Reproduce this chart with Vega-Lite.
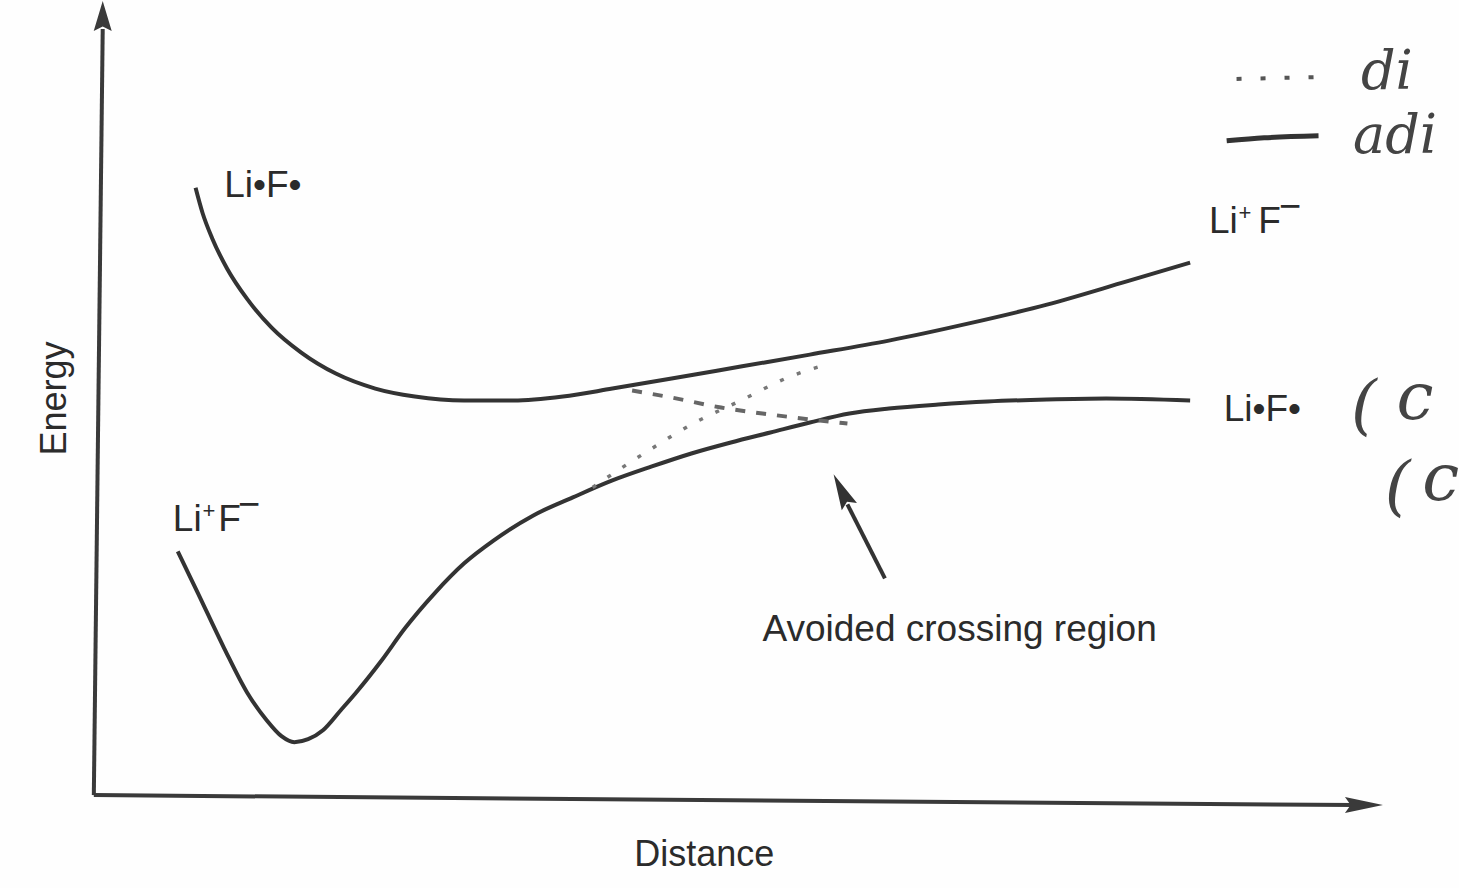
{
  "$schema": "https://vega.github.io/schema/vega-lite/v6.json",
  "width": 1459,
  "height": 888,
  "padding": 0,
  "autosize": {"type": "fit", "contains": "padding"},
  "background": "#fefefe",
  "config": {"view": {"stroke": null}},
  "datasets": {
    "axes": [
      {"part": "energy axis", "distance": 95, "energy": 93},
      {"part": "energy axis", "distance": 104, "energy": 860},
      {"part": "distance axis", "distance": 95, "energy": 93},
      {"part": "distance axis", "distance": 1372, "energy": 83}
    ],
    "curves": [
      {"state": "upper", "distance": 198, "energy": 701},
      {"state": "upper", "distance": 205, "energy": 676},
      {"state": "upper", "distance": 215, "energy": 650},
      {"state": "upper", "distance": 230, "energy": 620},
      {"state": "upper", "distance": 250, "energy": 590},
      {"state": "upper", "distance": 275, "energy": 561},
      {"state": "upper", "distance": 305, "energy": 536},
      {"state": "upper", "distance": 340, "energy": 515},
      {"state": "upper", "distance": 380, "energy": 500},
      {"state": "upper", "distance": 420, "energy": 492},
      {"state": "upper", "distance": 470, "energy": 488},
      {"state": "upper", "distance": 520, "energy": 488},
      {"state": "upper", "distance": 570, "energy": 492},
      {"state": "upper", "distance": 620, "energy": 500},
      {"state": "upper", "distance": 680, "energy": 510},
      {"state": "upper", "distance": 750, "energy": 522},
      {"state": "upper", "distance": 820, "energy": 534},
      {"state": "upper", "distance": 900, "energy": 548},
      {"state": "upper", "distance": 980, "energy": 565},
      {"state": "upper", "distance": 1060, "energy": 584},
      {"state": "upper", "distance": 1140, "energy": 607},
      {"state": "upper", "distance": 1205, "energy": 626},
      {"state": "lower", "distance": 180, "energy": 337},
      {"state": "lower", "distance": 200, "energy": 296},
      {"state": "lower", "distance": 227, "energy": 240},
      {"state": "lower", "distance": 250, "energy": 196},
      {"state": "lower", "distance": 270, "energy": 168},
      {"state": "lower", "distance": 285, "energy": 152},
      {"state": "lower", "distance": 298, "energy": 146},
      {"state": "lower", "distance": 312, "energy": 149},
      {"state": "lower", "distance": 327, "energy": 158},
      {"state": "lower", "distance": 345, "energy": 178},
      {"state": "lower", "distance": 360, "energy": 195},
      {"state": "lower", "distance": 385, "energy": 226},
      {"state": "lower", "distance": 410, "energy": 260},
      {"state": "lower", "distance": 440, "energy": 295},
      {"state": "lower", "distance": 470, "energy": 325},
      {"state": "lower", "distance": 500, "energy": 348},
      {"state": "lower", "distance": 540, "energy": 373},
      {"state": "lower", "distance": 580, "energy": 391},
      {"state": "lower", "distance": 620, "energy": 408},
      {"state": "lower", "distance": 660, "energy": 422},
      {"state": "lower", "distance": 700, "energy": 435},
      {"state": "lower", "distance": 740, "energy": 446},
      {"state": "lower", "distance": 780, "energy": 456},
      {"state": "lower", "distance": 820, "energy": 466},
      {"state": "lower", "distance": 860, "energy": 475},
      {"state": "lower", "distance": 900, "energy": 480},
      {"state": "lower", "distance": 950, "energy": 484},
      {"state": "lower", "distance": 1000, "energy": 487},
      {"state": "lower", "distance": 1060, "energy": 489},
      {"state": "lower", "distance": 1120, "energy": 490},
      {"state": "lower", "distance": 1205, "energy": 488}
    ],
    "covalent": [
      {"distance": 640, "energy": 498},
      {"distance": 680, "energy": 491},
      {"distance": 730, "energy": 481},
      {"distance": 780, "energy": 474},
      {"distance": 830, "energy": 468},
      {"distance": 858, "energy": 465}
    ],
    "ionic": [
      {"distance": 600, "energy": 401},
      {"distance": 627, "energy": 419},
      {"distance": 660, "energy": 440},
      {"distance": 700, "energy": 464},
      {"distance": 750, "energy": 488},
      {"distance": 800, "energy": 512},
      {"distance": 840, "energy": 525}
    ],
    "pointer": [
      {"distance": 858, "energy": 384},
      {"distance": 896, "energy": 310}
    ],
    "labels": [
      {"text": "Li•F•", "distance": 227, "energy": 692},
      {"text": "Li", "distance": 175, "energy": 357},
      {"text": "F", "distance": 221, "energy": 357},
      {"text": "Li", "distance": 1224, "energy": 656},
      {"text": "F", "distance": 1274, "energy": 656},
      {"text": "Li•F•", "distance": 1239, "energy": 468},
      {"text": "Avoided crossing region", "distance": 772, "energy": 247}
    ],
    "plus": [
      {"text": "+", "distance": 205, "energy": 370},
      {"text": "+", "distance": 1254, "energy": 669}
    ],
    "minus": [
      {"text": "−", "distance": 241, "energy": 371},
      {"text": "−", "distance": 1295, "energy": 670}
    ],
    "notes": [
      {"text": "(", "distance": 1368, "energy": 462},
      {"text": "c", "distance": 1414, "energy": 470},
      {"text": "(", "distance": 1402, "energy": 380},
      {"text": "c", "distance": 1440, "energy": 388}
    ],
    "legendnotes": [
      {"text": "di", "distance": 1378, "energy": 800},
      {"text": "adi", "distance": 1370, "energy": 736}
    ],
    "handdots": [
      {"distance": 1252, "energy": 810},
      {"distance": 1345, "energy": 812}
    ],
    "handline": [
      {"distance": 1242, "energy": 748},
      {"distance": 1280, "energy": 751},
      {"distance": 1335, "energy": 753}
    ]
  },
  "layer": [
    {
      "data": {"name": "axes"},
      "mark": {"type": "line", "color": "#3a3a3a", "strokeWidth": 4},
      "encoding": {
        "x": {"field": "distance", "type": "quantitative", "scale": {"domain": [0, 1459], "nice": false, "zero": false}, "axis": null},
        "y": {"field": "energy", "type": "quantitative", "scale": {"domain": [0, 888], "nice": false, "zero": false}, "axis": null},
        "detail": {"field": "part"}
      }
    },
    {
      "data": {"values": [{"distance": 104, "energy": 873}]},
      "mark": {"type": "point", "shape": "M0,-1L0.6,1L0,0.7L-0.6,1Z", "size": 900, "filled": true, "color": "#3a3a3a", "opacity": 1},
      "encoding": {"x": {"field": "distance", "type": "quantitative"}, "y": {"field": "energy", "type": "quantitative"}}
    },
    {
      "data": {"values": [{"distance": 1381, "energy": 83}]},
      "mark": {"type": "point", "shape": "M0,-1L0.42,1L0,0.7L-0.42,1Z", "size": 1444, "angle": 90, "filled": true, "color": "#3a3a3a", "opacity": 1},
      "encoding": {"x": {"field": "distance", "type": "quantitative"}, "y": {"field": "energy", "type": "quantitative"}}
    },
    {
      "data": {"values": [{"distance": 852, "energy": 398}]},
      "mark": {"type": "point", "shape": "M0,-1L0.47,1L0,0.7L-0.47,1Z", "size": 1296, "angle": -26, "filled": true, "color": "#333333", "opacity": 1},
      "encoding": {"x": {"field": "distance", "type": "quantitative"}, "y": {"field": "energy", "type": "quantitative"}}
    },
    {
      "data": {"name": "pointer"},
      "mark": {"type": "line", "color": "#333333", "strokeWidth": 4},
      "encoding": {"x": {"field": "distance", "type": "quantitative"}, "y": {"field": "energy", "type": "quantitative"}}
    },
    {
      "data": {"name": "curves"},
      "mark": {"type": "line", "color": "#333333", "strokeWidth": 4, "interpolate": "monotone"},
      "encoding": {
        "x": {"field": "distance", "type": "quantitative"},
        "y": {"field": "energy", "type": "quantitative"},
        "detail": {"field": "state"}
      }
    },
    {
      "data": {"name": "covalent"},
      "mark": {"type": "line", "color": "#666666", "strokeWidth": 4, "strokeDash": [10, 11], "interpolate": "monotone"},
      "encoding": {"x": {"field": "distance", "type": "quantitative"}, "y": {"field": "energy", "type": "quantitative"}}
    },
    {
      "data": {"name": "ionic"},
      "mark": {"type": "line", "color": "#777777", "strokeWidth": 3.5, "strokeDash": [4, 14], "interpolate": "monotone"},
      "encoding": {"x": {"field": "distance", "type": "quantitative"}, "y": {"field": "energy", "type": "quantitative"}}
    },
    {
      "data": {"name": "labels"},
      "mark": {"type": "text", "align": "left", "baseline": "alphabetic", "font": "Liberation Sans", "fontSize": 37, "color": "#2b2b2b"},
      "encoding": {
        "x": {"field": "distance", "type": "quantitative"},
        "y": {"field": "energy", "type": "quantitative"},
        "text": {"field": "text"}
      }
    },
    {
      "data": {"name": "plus"},
      "mark": {"type": "text", "align": "left", "baseline": "alphabetic", "font": "Liberation Sans", "fontSize": 22, "color": "#2b2b2b"},
      "encoding": {
        "x": {"field": "distance", "type": "quantitative"},
        "y": {"field": "energy", "type": "quantitative"},
        "text": {"field": "text"}
      }
    },
    {
      "data": {"name": "minus"},
      "mark": {"type": "text", "align": "left", "baseline": "alphabetic", "font": "Liberation Sans", "fontSize": 38, "color": "#2b2b2b"},
      "encoding": {
        "x": {"field": "distance", "type": "quantitative"},
        "y": {"field": "energy", "type": "quantitative"},
        "text": {"field": "text"}
      }
    },
    {
      "data": {"values": [{"text": "Distance", "distance": 713, "energy": 22}]},
      "mark": {"type": "text", "align": "center", "baseline": "alphabetic", "font": "Liberation Sans", "fontSize": 36, "color": "#2b2b2b"},
      "encoding": {
        "x": {"field": "distance", "type": "quantitative"},
        "y": {"field": "energy", "type": "quantitative"},
        "text": {"field": "text"}
      }
    },
    {
      "data": {"values": [{"text": "Energy", "distance": 67, "energy": 490}]},
      "mark": {"type": "text", "align": "center", "baseline": "alphabetic", "angle": 270, "font": "Liberation Sans", "fontSize": 36, "color": "#2b2b2b"},
      "encoding": {
        "x": {"field": "distance", "type": "quantitative"},
        "y": {"field": "energy", "type": "quantitative"},
        "text": {"field": "text"}
      }
    },
    {
      "data": {"name": "notes"},
      "mark": {"type": "text", "align": "left", "baseline": "alphabetic", "font": "DejaVu Serif", "fontStyle": "italic", "fontSize": 66, "color": "#444444"},
      "encoding": {
        "x": {"field": "distance", "type": "quantitative"},
        "y": {"field": "energy", "type": "quantitative"},
        "text": {"field": "text"}
      }
    },
    {
      "data": {"name": "legendnotes"},
      "mark": {"type": "text", "align": "left", "baseline": "alphabetic", "font": "DejaVu Serif", "fontStyle": "italic", "fontSize": 54, "color": "#444444"},
      "encoding": {
        "x": {"field": "distance", "type": "quantitative"},
        "y": {"field": "energy", "type": "quantitative"},
        "text": {"field": "text"}
      }
    },
    {
      "data": {"name": "handdots"},
      "mark": {"type": "line", "color": "#555555", "strokeWidth": 4, "strokeDash": [5, 19]},
      "encoding": {"x": {"field": "distance", "type": "quantitative"}, "y": {"field": "energy", "type": "quantitative"}}
    },
    {
      "data": {"name": "handline"},
      "mark": {"type": "line", "color": "#333333", "strokeWidth": 5, "interpolate": "monotone"},
      "encoding": {"x": {"field": "distance", "type": "quantitative"}, "y": {"field": "energy", "type": "quantitative"}}
    }
  ]
}
